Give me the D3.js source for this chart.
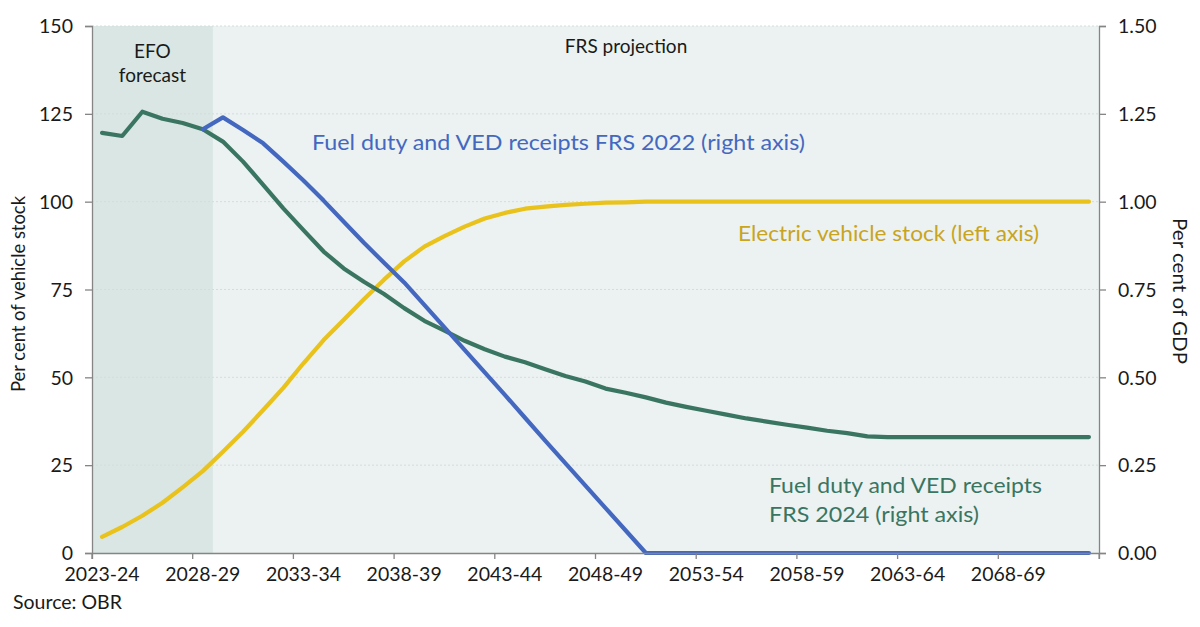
<!DOCTYPE html>
<html>
<head>
<meta charset="utf-8">
<script src="https://cdn.jsdelivr.net/npm/d3@7"></script>
<style>
  html, body { margin: 0; padding: 0; background: #ffffff; }
  svg { display: block; }
  text { font-family: "Lato", "Noto Sans", sans-serif; }
</style>
</head>
<body>
<svg id="chart" width="1200" height="627"></svg>
<script>
// ---------------- DATA ----------------
const categories = [
  "2023-24","2024-25","2025-26","2026-27","2027-28","2028-29","2029-30","2030-31","2031-32","2032-33",
  "2033-34","2034-35","2035-36","2036-37","2037-38","2038-39","2039-40","2040-41","2041-42","2042-43",
  "2043-44","2044-45","2045-46","2046-47","2047-48","2048-49","2049-50","2050-51","2051-52","2052-53",
  "2053-54","2054-55","2055-56","2056-57","2057-58","2058-59","2059-60","2060-61","2061-62","2062-63",
  "2063-64","2064-65","2065-66","2066-67","2067-68","2068-69","2069-70","2070-71","2071-72","2072-73"
];
const xTickLabels = ["2023-24","2028-29","2033-34","2038-39","2043-44","2048-49","2053-54","2058-59","2063-64","2068-69"];
const efoCategories = ["2023-24","2024-25","2025-26","2026-27","2027-28","2028-29"];

// Electric vehicle stock, per cent of vehicle stock (left axis)
const evStock = [
  4.6, 7.4, 10.6, 14.3, 18.7, 23.3, 28.8, 34.5, 40.7, 47.0,
  54.0, 60.6, 66.4, 72.2, 77.8, 83.0, 87.2, 90.2, 92.9, 95.2,
  96.8, 98.0, 98.6, 99.1, 99.4, 99.7, 99.8, 100, 100, 100,
  100, 100, 100, 100, 100, 100, 100, 100, 100, 100,
  100, 100, 100, 100, 100, 100, 100, 100, 100, 100
];
// Fuel duty and VED receipts FRS 2024, per cent of GDP (right axis)
const frs2024 = [
  1.196, 1.187, 1.256, 1.236, 1.224, 1.206, 1.171, 1.114, 1.048, 0.981,
  0.919, 0.858, 0.810, 0.772, 0.737, 0.697, 0.661, 0.633, 0.604, 0.580,
  0.559, 0.543, 0.523, 0.504, 0.488, 0.468, 0.456, 0.443, 0.428, 0.416,
  0.405, 0.394, 0.383, 0.374, 0.365, 0.357, 0.348, 0.341, 0.332, 0.330,
  0.330, 0.330, 0.330, 0.330, 0.330, 0.330, 0.330, 0.330, 0.330, 0.330
];
// Fuel duty and VED receipts FRS 2022, per cent of GDP (right axis)
const frs2022 = [
  null, null, null, null, null, 1.206, 1.240, 1.204, 1.166, 1.114,
  1.060, 1.003, 0.943, 0.883, 0.826, 0.770, 0.706, 0.642, 0.578, 0.514,
  0.450, 0.385, 0.320, 0.256, 0.192, 0.128, 0.064, 0, 0, 0,
  0, 0, 0, 0, 0, 0, 0, 0, 0, 0,
  0, 0, 0, 0, 0, 0, 0, 0, 0, 0
];
const leftTicks = [0, 25, 50, 75, 100, 125, 150];
const rightTicks = [0, 0.25, 0.5, 0.75, 1.0, 1.25, 1.5];

// ---------------- LAYOUT ----------------
const W = 1200, H = 627;
const margin = { top: 26, right: 101, bottom: 74, left: 92 };
const innerW = W - margin.left - margin.right;
const innerH = H - margin.top - margin.bottom;

const svg = d3.select("#chart");
const g = svg.append("g").attr("transform", `translate(${margin.left},${margin.top})`);

const x = d3.scaleBand().domain(categories).range([0, innerW]).padding(0);
const bw = x.bandwidth();
const cx = d => x(d) + bw / 2;
const yL = d3.scaleLinear().domain([0, 150]).range([innerH, 0]);
const yR = d3.scaleLinear().domain([0, 1.5]).range([innerH, 0]);

const colors = {
  efo: "#d9e6e3",
  frs: "#ebf2f1",
  grid: "#d5dcdc",
  axis: "#858585",
  yellow: "#e9c21b",
  yellowText: "#c9a41e",
  green: "#3a7562",
  blue: "#4468c0",
  text: "#1a1a1a"
};

// Background regions
g.append("rect")
  .attr("x", 0).attr("y", 0)
  .attr("width", innerW).attr("height", innerH)
  .attr("fill", colors.frs);
g.append("rect")
  .attr("x", x(efoCategories[0])).attr("y", 0)
  .attr("width", x(efoCategories[efoCategories.length - 1]) + bw - x(efoCategories[0]))
  .attr("height", innerH)
  .attr("fill", colors.efo);

// Gridlines
g.append("g").selectAll("line")
  .data(leftTicks.filter(d => d > 0))
  .join("line")
  .attr("x1", 0).attr("x2", innerW)
  .attr("y1", d => yL(d)).attr("y2", d => yL(d))
  .attr("stroke", colors.grid)
  .attr("stroke-width", 1)
  .attr("stroke-dasharray", "2,2");

// Lines
const lineL = d3.line()
  .defined(d => d.v !== null)
  .x(d => cx(d.c))
  .y(d => yL(d.v));
const lineR = d3.line()
  .defined(d => d.v !== null)
  .x(d => cx(d.c))
  .y(d => yR(d.v));

const evData = categories.map((c, i) => ({ c, v: evStock[i] }));
const g24Data = categories.map((c, i) => ({ c, v: frs2024[i] }));
const g22Data = categories.map((c, i) => ({ c, v: frs2022[i] }));

g.append("path").datum(evData)
  .attr("d", lineL).attr("fill", "none")
  .attr("stroke", colors.yellow).attr("stroke-width", 4.2)
  .attr("stroke-linejoin", "round").attr("stroke-linecap", "round");
g.append("path").datum(g24Data)
  .attr("d", lineR).attr("fill", "none")
  .attr("stroke", colors.green).attr("stroke-width", 4.2)
  .attr("stroke-linejoin", "round").attr("stroke-linecap", "round");
g.append("path").datum(g22Data)
  .attr("d", lineR).attr("fill", "none")
  .attr("stroke", colors.blue).attr("stroke-width", 4.2)
  .attr("stroke-linejoin", "round").attr("stroke-linecap", "round");

// Axes
const tickFont = 19.5;
const xAxis = g.append("g")
  .attr("transform", `translate(0,${innerH})`)
  .call(d3.axisBottom(x).tickValues(xTickLabels).tickSize(6).tickPadding(8));
xAxis.selectAll(".tick line").attr("x1", -bw / 2).attr("x2", -bw / 2);
xAxis.append("line")
  .attr("x1", innerW).attr("x2", innerW).attr("y1", 0).attr("y2", 6)
  .attr("stroke", colors.axis);

const yAxisL = g.append("g")
  .call(d3.axisLeft(yL).tickValues(leftTicks).tickSize(7).tickPadding(12).tickFormat(d3.format("d")));
const yAxisR = g.append("g")
  .attr("transform", `translate(${innerW},0)`)
  .call(d3.axisRight(yR).tickValues(rightTicks).tickSize(7).tickPadding(12).tickFormat(d3.format(".2f")));

[xAxis, yAxisL, yAxisR].forEach(a => {
  a.select(".domain").attr("stroke", colors.axis).attr("stroke-width", 1.3);
  a.selectAll(".tick line").attr("stroke", colors.axis).attr("stroke-width", 1.3);
  a.selectAll(".tick text")
    .attr("fill", colors.text)
    .style("font-size", tickFont + "px")
    .style("font-family", '"Lato", "Noto Sans", sans-serif');
});
yAxisL.selectAll(".tick text").attr("dy", "0.35em");
yAxisR.selectAll(".tick text").attr("dy", "0.35em");

// Axis titles
svg.append("text")
  .attr("transform", `translate(25,294) rotate(-90)`)
  .attr("text-anchor", "middle")
  .attr("fill", colors.text)
  .style("font-size", "18.5px")
  .attr("textLength", 196).attr("lengthAdjust", "spacingAndGlyphs")
  .text("Per cent of vehicle stock");
svg.append("text")
  .attr("transform", `translate(1173,291) rotate(90)`)
  .attr("text-anchor", "middle")
  .attr("fill", colors.text)
  .style("font-size", "18.5px")
  .attr("textLength", 146).attr("lengthAdjust", "spacingAndGlyphs")
  .text("Per cent of GDP");

// Region labels
const efoCenter = margin.left + x(efoCategories[0]) + (efoCategories.length * bw) / 2;
svg.append("text").attr("x", efoCenter).attr("y", 58)
  .attr("text-anchor", "middle").attr("fill", colors.text)
  .style("font-size", "19px").text("EFO");
svg.append("text").attr("x", efoCenter).attr("y", 82)
  .attr("text-anchor", "middle").attr("fill", colors.text)
  .style("font-size", "19px").text("forecast");
svg.append("text").attr("x", 626).attr("y", 53)
  .attr("text-anchor", "middle").attr("fill", colors.text)
  .style("font-size", "19px").text("FRS projection");

// Series labels
svg.append("text").attr("x", 312).attr("y", 150)
  .attr("fill", colors.blue).style("font-size", "21px")
  .attr("textLength", 493).attr("lengthAdjust", "spacingAndGlyphs")
  .text("Fuel duty and VED receipts FRS 2022 (right axis)");
svg.append("text").attr("x", 738).attr("y", 241)
  .attr("fill", colors.yellowText).style("font-size", "21px")
  .attr("textLength", 301).attr("lengthAdjust", "spacingAndGlyphs")
  .text("Electric vehicle stock (left axis)");
svg.append("text").attr("x", 769).attr("y", 493)
  .attr("fill", colors.green).style("font-size", "21px")
  .attr("textLength", 273).attr("lengthAdjust", "spacingAndGlyphs")
  .text("Fuel duty and VED receipts");
svg.append("text").attr("x", 769).attr("y", 522)
  .attr("fill", colors.green).style("font-size", "21px")
  .attr("textLength", 210).attr("lengthAdjust", "spacingAndGlyphs")
  .text("FRS 2024 (right axis)");

// Source
svg.append("text").attr("x", 13).attr("y", 609)
  .attr("fill", colors.text).style("font-size", "19.5px")
  .text("Source: OBR");
</script>
</body>
</html>
